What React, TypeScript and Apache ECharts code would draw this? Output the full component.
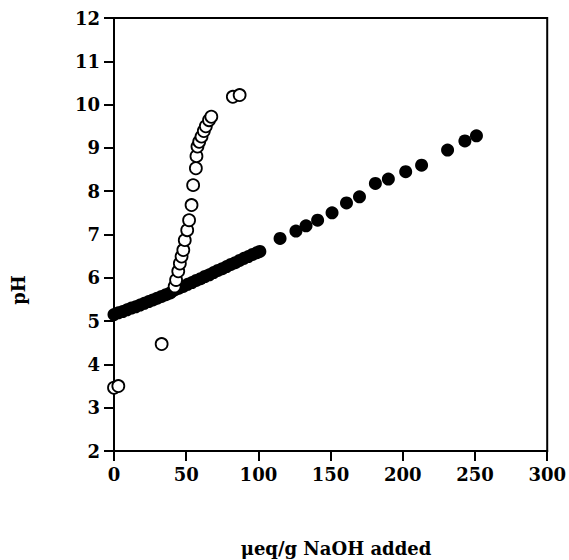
import React, { useEffect, useRef } from "react";
import * as echarts from "echarts";

const filledX = [0, 3, 6, 9, 12, 15, 18, 21, 24, 27, 30, 33, 36, 39, 42, 45, 48, 51, 54, 57, 60, 63, 66, 69, 72, 75, 78, 81, 84, 87, 90, 93, 96, 99, 101, 115, 126, 133, 141, 151, 161, 170, 181, 190, 202, 213, 231, 243, 251];
const filledY = [5.15, 5.19, 5.22, 5.26, 5.30, 5.33, 5.37, 5.41, 5.45, 5.49, 5.53, 5.57, 5.61, 5.65, 5.72, 5.76, 5.80, 5.85, 5.89, 5.94, 5.98, 6.03, 6.07, 6.12, 6.17, 6.21, 6.26, 6.31, 6.35, 6.40, 6.45, 6.49, 6.54, 6.58, 6.61, 6.91, 7.08, 7.20, 7.33, 7.50, 7.73, 7.87, 8.18, 8.28, 8.45, 8.60, 8.95, 9.16, 9.28];

const openX = [0, 3, 33, 42, 43, 44.5, 45.6, 46.8, 48, 49, 50.7, 52, 53.7, 54.8, 56.7, 57.1, 57.8, 59, 60.6, 62.2, 63.6, 65.8, 67.4, 82.3, 87];
const openY = [3.46, 3.50, 4.47, 5.80, 5.95, 6.15, 6.33, 6.49, 6.64, 6.87, 7.10, 7.33, 7.68, 8.14, 8.53, 8.81, 9.03, 9.14, 9.26, 9.39, 9.50, 9.64, 9.72, 10.18, 10.22];

const xTicks = [0, 50, 100, 150, 200, 250, 300];
const yTicks = [2, 3, 4, 5, 6, 7, 8, 9, 10, 11, 12];

const FONT = "DejaVu Serif";

export default function App() {
  const ref = useRef<HTMLDivElement>(null);
  useEffect(() => {
    if (!ref.current) return;
    const chart = echarts.init(ref.current, undefined, { renderer: "svg" });
    const axisCommon = {
      axisLine: { show: true, lineStyle: { color: "#000", width: 2 } },
      axisTick: { show: true, length: 10, inside: false, lineStyle: { color: "#000", width: 2 } },
      splitLine: { show: false },
      axisLabel: { color: "#000", fontFamily: FONT, fontWeight: "bold", fontSize: 18 },
    };
    chart.setOption({
      animation: false,
      backgroundColor: "#fff",
      grid: {
        left: 114, right: 21, top: 18, bottom: 109,
        show: true, borderColor: "#000", borderWidth: 2, backgroundColor: "transparent",
      },
      xAxis: {
        type: "value", min: xTicks[0], max: xTicks[xTicks.length - 1], interval: 50,
        ...axisCommon,
        axisLabel: { ...axisCommon.axisLabel, margin: 14 },
      },
      yAxis: {
        type: "value", min: yTicks[0], max: yTicks[yTicks.length - 1], interval: 1,
        ...axisCommon,
        axisLabel: { ...axisCommon.axisLabel, margin: 14 },
      },
      graphic: [
        {
          type: "text", x: 18, y: 290, rotation: Math.PI / 2,
          style: { text: "pH", font: `bold 18px "${FONT}"`, fill: "#000", align: "center", verticalAlign: "middle" },
        },
        {
          type: "text", x: 336, y: 548,
          style: { text: "μeq/g NaOH added", font: `bold 18px "${FONT}"`, fill: "#000", align: "center", verticalAlign: "middle" },
        },
      ],
      series: [
        {
          type: "scatter", clip: false, symbol: "circle", symbolSize: 13,
          itemStyle: { color: "#000", opacity: 1 },
          data: filledX.map((x, i) => [x, filledY[i]]),
          z: 2,
        },
        {
          type: "scatter", clip: false, symbol: "circle", symbolSize: 12,
          itemStyle: { color: "#fff", borderColor: "#000", borderWidth: 1.8, opacity: 1 },
          data: openX.map((x, i) => [x, openY[i]]),
          z: 3,
        },
      ],
    });
    return () => chart.dispose();
  }, []);
  return <div ref={ref} style={{ width: 569, height: 560, position: "absolute", left: 0, top: 0 }} />;
}
